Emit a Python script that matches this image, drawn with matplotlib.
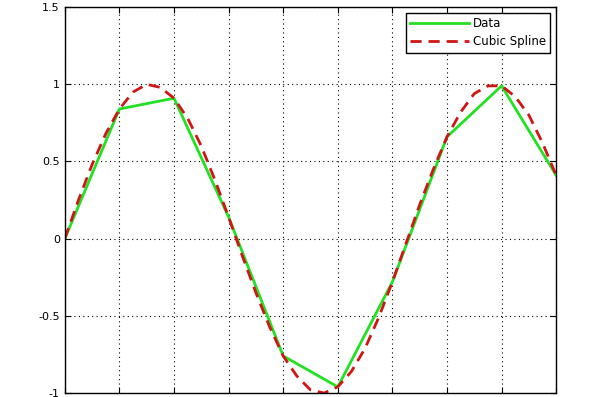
import matplotlib
matplotlib.use('Agg')
import matplotlib.pyplot as plt

# sampled data points
x_data = [0, 1, 2, 3, 4, 5, 6, 7, 8, 9]
y_data = [0.0, 0.84, 0.91, 0.14, -0.76, -0.96, -0.28, 0.66, 0.99, 0.41]

# cubic spline curve (0.25 steps)
x_spline = [i * 0.25 for i in range(37)]
y_spline = [0.0, 0.25, 0.48, 0.68, 0.84, 0.95, 1.0, 0.98, 0.91, 0.78,
            0.60, 0.38, 0.14, -0.11, -0.35, -0.57, -0.76, -0.89, -0.98, -1.0,
            -0.96, -0.86, -0.71, -0.51, -0.28, -0.03, 0.22, 0.45, 0.66, 0.82,
            0.94, 0.99, 0.99, 0.92, 0.80, 0.62, 0.41]

y_ticks = [-1, -0.5, 0, 0.5, 1, 1.5]
y_labels = ['-1', '-0.5', '0', '0.5', '1', '1.5']

fig = plt.figure(figsize=(6, 3.97), dpi=100)
ax = fig.add_axes([0.108, 0.010, 0.819, 0.972])

ax.plot(x_data, y_data, color='#22e022', lw=2, label='Data')
ax.plot(x_spline, y_spline, color='#d01515', lw=2, ls=(0, (4, 2.5)), label='Cubic Spline')

ax.set_xlim(0, 9)
ax.set_ylim(-1, 1.5)
ax.set_xticks(range(10))  # tick labels fall below the cropped edge, as in the reference
ax.set_yticks(y_ticks)
ax.set_yticklabels(y_labels)
ax.tick_params(direction='in', labelsize=8, length=4, top=True, right=True)
ax.grid(True, color='black', ls=(0, (1, 3)), lw=0.8)
for s in ax.spines.values():
    s.set_linewidth(1)

leg = ax.legend(loc='upper right', fontsize=8.5, fancybox=False, framealpha=1,
                edgecolor='black', handlelength=5, borderpad=0.35,
                labelspacing=0.45, handletextpad=0.3, borderaxespad=0.5)
leg.get_frame().set_linewidth(1)

fig.savefig('out.png', dpi=100)
